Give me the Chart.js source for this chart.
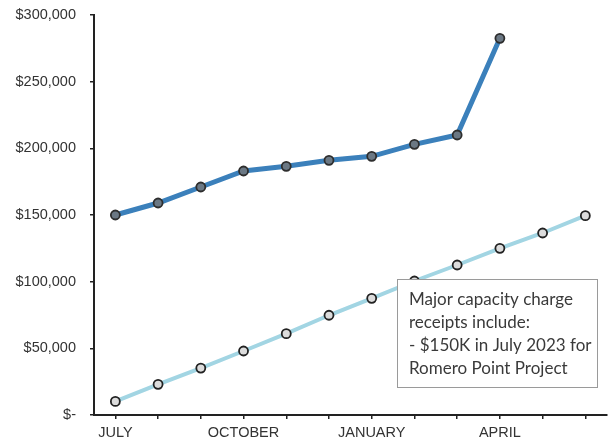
<!DOCTYPE html>
<html>
<head>
<meta charset="utf-8">
<script src="https://cdn.jsdelivr.net/npm/chart.js@4.4.1/dist/chart.umd.min.js"></script>
<style>
  html, body { margin: 0; padding: 0; background: #fff; }
  #wrap { width: 613px; height: 445px; position: relative; }
</style>
</head>
<body>
<div id="wrap"><canvas id="chart" width="613" height="445"></canvas></div>
<script>
// Fiscal-year months (July through June)
const months = ['JULY', 'AUGUST', 'SEPTEMBER', 'OCTOBER', 'NOVEMBER', 'DECEMBER',
                'JANUARY', 'FEBRUARY', 'MARCH', 'APRIL', 'MAY', 'JUNE'];

// Cumulative capacity charge receipts, actual (through April)
const actualReceipts = [150000, 159000, 171000, 183000, 186500, 191000,
                        194000, 203000, 210000, 282500];

// Cumulative budgeted receipts
const budgetReceipts = [10200, 23000, 35200, 48000, 61000, 74800,
                        87500, 100500, 112500, 125000, 136500, 149500];

// Y-axis tick values
const yTicks = [0, 50000, 100000, 150000, 200000, 250000, 300000];

// Note shown in the lower-right box
const noteLines = ['Major capacity charge', 'receipts include:',
                   '- $150K in July 2023 for', 'Romero Point Project'];

function money(v) {
  if (v === 0) return '$-';
  return '$' + v.toLocaleString('en-US');
}

const noteBox = {
  id: 'noteBox',
  afterDatasetsDraw(chart) {
    const ctx = chart.ctx;
    const area = chart.chartArea;
    const x = area.left + 303, y = area.top + 264, w = 200, h = 108;
    ctx.save();
    ctx.fillStyle = '#ffffff';
    ctx.fillRect(x, y, w, h);
    ctx.strokeStyle = '#9a9a9a';
    ctx.lineWidth = 1;
    ctx.strokeRect(x + 0.5, y + 0.5, w, h);
    ctx.fillStyle = '#3a3a3a';
    ctx.font = '17px Lato';
    ctx.textBaseline = 'middle';
    noteLines.forEach((t, i) => ctx.fillText(t, x + 12, y + 21 + i * 22.7));
    ctx.restore();
  }
};

new Chart(document.getElementById('chart'), {
  type: 'line',
  data: {
    labels: months,
    datasets: [
      {
        data: actualReceipts,
        borderColor: '#3b80bb',
        borderWidth: 5,
        pointRadius: 4.5,
        pointBackgroundColor: '#6b7884',
        pointBorderColor: '#2e2e2e',
        pointBorderWidth: 1.8,
        tension: 0
      },
      {
        data: budgetReceipts,
        borderColor: '#a2d5e3',
        borderWidth: 4,
        pointRadius: 4.5,
        pointBackgroundColor: '#dcdcdc',
        pointBorderColor: '#222222',
        pointBorderWidth: 1.8,
        tension: 0
      }
    ]
  },
  options: {
    responsive: false,
    animation: false,
    layout: { padding: { top: 15, right: 1, left: 0, bottom: 0 } },
    plugins: { legend: { display: false }, tooltip: { enabled: false } },
    scales: {
      x: {
        offset: true,
        grid: { display: true, drawOnChartArea: false, tickLength: 4, color: '#222', lineWidth: 1.5, offset: false },
        border: { display: true, color: '#222', width: 2 },
        ticks: {
          autoSkip: false,
          maxRotation: 0,
          padding: 5,
          color: '#333',
          font: { family: 'Liberation Sans', size: 14.5 },
          callback: (v, i) => (i % 3 === 0 ? months[i] : '')
        },
        afterFit: (s) => { s.height = 30; s.paddingLeft = 0; s.paddingRight = 0; }
      },
      y: {
        min: 0,
        max: 300000,
        afterBuildTicks: (s) => { s.ticks = yTicks.map(v => ({ value: v })); },
        grid: { display: true, drawOnChartArea: false, tickLength: 4, color: '#222', lineWidth: 1.5 },
        border: { display: true, color: '#222', width: 2 },
        ticks: {
          padding: 14,
          color: '#333',
          font: { family: 'Liberation Sans', size: 14.5 },
          callback: (v) => money(v)
        },
        afterFit: (s) => { s.width = 94; s.paddingTop = 0; s.paddingBottom = 0; }
      }
    }
  },
  plugins: [noteBox]
});
</script>
</body>
</html>
